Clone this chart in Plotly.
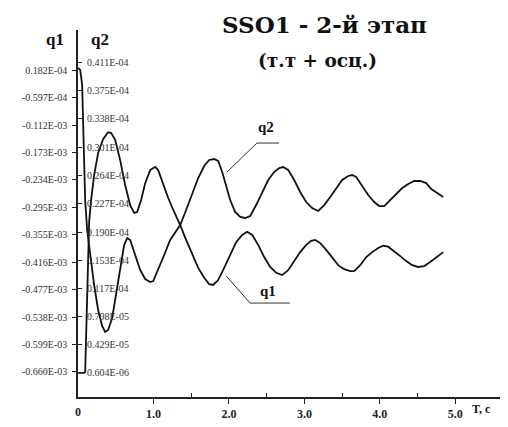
import plotly.graph_objects as go

# ---- data ----
t_q1 = [0.0, 0.080, 0.093, 0.106, 0.119, 0.133, 0.146, 0.172, 0.212, 0.265, 0.332, 0.398, 0.438, 0.491,
        0.557, 0.623, 0.690, 0.743, 0.782, 0.836, 0.889, 0.955, 1.021, 1.061, 1.114, 1.194, 1.273, 1.353,
        1.432, 1.512, 1.592, 1.671, 1.737, 1.790, 1.857, 1.936, 2.016, 2.095, 2.175, 2.241, 2.308, 2.387,
        2.467, 2.546, 2.626, 2.706, 2.785, 2.865, 2.944, 3.024, 3.090, 3.143, 3.210, 3.289, 3.369, 3.448,
        3.528, 3.607, 3.660, 3.740, 3.820, 3.899, 3.979, 4.045, 4.111, 4.191, 4.271, 4.350, 4.430, 4.509,
        4.589, 4.668, 4.748, 4.841]
q1_e3 = [-0.662, -0.662, -0.660, -0.567, -0.467, -0.378, -0.327, -0.278, -0.223, -0.174, -0.143, -0.128,
         -0.130, -0.145, -0.190, -0.245, -0.290, -0.307, -0.305, -0.278, -0.241, -0.212, -0.205, -0.212,
         -0.238, -0.274, -0.305, -0.334, -0.367, -0.400, -0.429, -0.451, -0.465, -0.467, -0.456, -0.429,
         -0.400, -0.372, -0.356, -0.349, -0.356, -0.378, -0.405, -0.427, -0.440, -0.445, -0.434, -0.414,
         -0.394, -0.378, -0.369, -0.367, -0.374, -0.389, -0.407, -0.423, -0.432, -0.436, -0.436, -0.423,
         -0.405, -0.394, -0.385, -0.380, -0.382, -0.392, -0.403, -0.414, -0.423, -0.427, -0.425, -0.416,
         -0.405, -0.394]

t_q2 = [0.0, 0.027, 0.053, 0.066, 0.080, 0.093, 0.119, 0.159, 0.212, 0.265, 0.318, 0.358, 0.398, 0.451,
        0.504, 0.557, 0.610, 0.650, 0.690, 0.756, 0.822, 0.889, 0.955, 0.995, 1.061, 1.141, 1.220, 1.286,
        1.353, 1.432, 1.512, 1.592, 1.671, 1.737, 1.804, 1.857, 1.910, 1.963, 2.016, 2.082, 2.149, 2.215,
        2.281, 2.361, 2.440, 2.520, 2.599, 2.666, 2.719, 2.785, 2.865, 2.944, 3.024, 3.103, 3.183, 3.263,
        3.342, 3.422, 3.501, 3.581, 3.634, 3.687, 3.767, 3.846, 3.926, 3.992, 4.058, 4.138, 4.218, 4.297,
        4.377, 4.456, 4.536, 4.615, 4.682, 4.761, 4.841]
q2_e4 = [0.4042, 0.4016, 0.3820, 0.3363, 0.2841, 0.2319, 0.1927, 0.1601, 0.1209, 0.0883, 0.0674, 0.0596,
         0.0622, 0.0778, 0.1079, 0.1431, 0.1731, 0.1822, 0.1796, 0.1601, 0.1405, 0.1287, 0.1248, 0.1261,
         0.1405, 0.1601, 0.1796, 0.1901, 0.1992, 0.2188, 0.2410, 0.2606, 0.2762, 0.2841, 0.2854, 0.2828,
         0.2684, 0.2501, 0.2319, 0.2162, 0.2097, 0.2084, 0.2110, 0.2253, 0.2423, 0.2580, 0.2684, 0.2736,
         0.2749, 0.2710, 0.2580, 0.2423, 0.2292, 0.2214, 0.2175, 0.2253, 0.2358, 0.2475, 0.2580, 0.2632,
         0.2645, 0.2619, 0.2501, 0.2384, 0.2292, 0.2240, 0.2240, 0.2319, 0.2410, 0.2475, 0.2527, 0.2567,
         0.2567, 0.2540, 0.2462, 0.2410, 0.2358]

q1_tick_e3 = [-0.660, -0.599, -0.538, -0.477, -0.416, -0.355, -0.2946, -0.2337, -0.1728, -0.112, -0.051, 0.0099]
q1_tick_text = ["-0.660E-03", "-0.599E-03", "-0.538E-03", "-0.477E-03", "-0.416E-03", "-0.355E-03",
                "-0.295E-03", "-0.234E-03", "-0.173E-03", "-0.112E-03", "-0.597E-04", "0.182E-04"]
q2_tick_e4 = [0.00604, 0.0429, 0.0798, 0.117, 0.153, 0.190, 0.227, 0.264, 0.301, 0.338, 0.375, 0.411]
q2_tick_text = ["0.604E-06", "0.429E-05", "0.798E-05", "0.117E-04", "0.153E-04", "0.190E-04",
                "0.227E-04", "0.264E-04", "0.301E-04", "0.338E-04", "0.375E-04", "0.411E-04"]
t_ticks = [0, 1, 2, 3, 4, 5]
t_tick_text = ["0", "1.0", "2.0", "3.0", "4.0", "5.0"]
t_minor = [0.5, 1.5, 2.5, 3.5, 4.5]

q1 = [v * 1e-3 for v in q1_e3]
q2 = [v * 1e-4 for v in q2_e4]
q1_ticks = [v * 1e-3 for v in q1_tick_e3]
q2_ticks = [v * 1e-4 for v in q2_tick_e4]

SERIF = "Liberation Serif"
DSERIF = "DejaVu Serif"
fig = go.Figure()
fig.add_trace(go.Scatter(x=t_q1, y=q1, mode="lines", line=dict(color="#111", width=1.8),
                         yaxis="y", showlegend=False))
fig.add_trace(go.Scatter(x=t_q2, y=q2, mode="lines", line=dict(color="#111", width=1.8),
                         yaxis="y2", showlegend=False))

# the label at t=0 is hidden by plotly next to inside y labels, so it is drawn as an annotation
x_tick_text_shown = ["" if v == 0 else "<b>%s</b>" % s for v, s in zip(t_ticks, t_tick_text)]

fig.update_layout(
    width=500, height=419,
    margin=dict(l=70, r=3, t=22, b=30, autoexpand=False),
    paper_bgcolor="white", plot_bgcolor="white",
    xaxis=dict(range=[-0.002, 5.66], showgrid=False, zeroline=False, showline=True, linecolor="#222",
               linewidth=1.5, ticks="outside", ticklen=5, tickcolor="#222", automargin=False,
               tickvals=t_ticks, ticktext=x_tick_text_shown,
               tickfont=dict(family=SERIF, size=12, color="#222"),
               minor=dict(tickvals=t_minor, ticks="inside", ticklen=4, tickcolor="#222")),
    yaxis=dict(range=[-0.7155e-3, 0.0988e-3], showgrid=False, zeroline=False, showline=True,
               linecolor="#222", linewidth=1.5, ticks="outside", ticklen=4, tickcolor="#222",
               tickvals=q1_ticks, ticktext=q1_tick_text, ticklabelstandoff=3, automargin=False,
               tickfont=dict(family=SERIF, size=10, color="#333")),
    yaxis2=dict(range=[-0.0253e-4, 0.4538e-4], overlaying="y", side="left", anchor="x",
                showgrid=False, zeroline=False, showline=False, ticks="inside", ticklen=4,
                tickcolor="#222", tickvals=q2_ticks, ticktext=q2_tick_text, automargin=False,
                ticklabelposition="inside", ticklabelstandoff=4,
                tickfont=dict(family=SERIF, size=10, color="#333")),
)

fig.add_annotation(text="<b>%s</b>" % t_tick_text[0], x=t_ticks[0], xref="x", y=-0.040, yref="paper",
                   showarrow=False, xanchor="center", yanchor="middle",
                   font=dict(family=SERIF, size=12, color="#222"))

ann = [
    dict(text="<b>SSO1 - 2-й этап</b>", x=0.578, y=1.014, size=23, fam=DSERIF),
    dict(text="<b>(т.т + осц.)</b>", x=0.560, y=0.918, size=18.5, fam=DSERIF),
    dict(text="<b>q1</b>", x=-0.054, y=0.973, size=17, fam=SERIF),
    dict(text="<b>q2</b>", x=0.0515, y=0.973, size=17, fam=SERIF),
    dict(text="<b>T, c</b>", x=0.946, y=-0.033, size=12, fam=SERIF),
    dict(text="<b>q2</b>", x=0.440, y=0.736, size=15, fam=SERIF),
    dict(text="<b>q1</b>", x=0.445, y=0.289, size=15, fam=SERIF),
]
for a in ann:
    fig.add_annotation(text=a["text"], x=a["x"], y=a["y"], xref="paper", yref="paper",
                       showarrow=False, xanchor="center", yanchor="middle",
                       font=dict(family=a["fam"], size=a["size"], color="#111"))

pointers = [
    (0.349, 0.613, 0.419, 0.692), (0.419, 0.692, 0.471, 0.692),
    (0.347, 0.330, 0.403, 0.256), (0.403, 0.256, 0.496, 0.256),
]
for x0, y0, x1, y1 in pointers:
    fig.add_shape(type="line", xref="paper", yref="paper", x0=x0, y0=y0, x1=x1, y1=y1,
                  line=dict(color="#333", width=1))

fig.write_html("out.html")
